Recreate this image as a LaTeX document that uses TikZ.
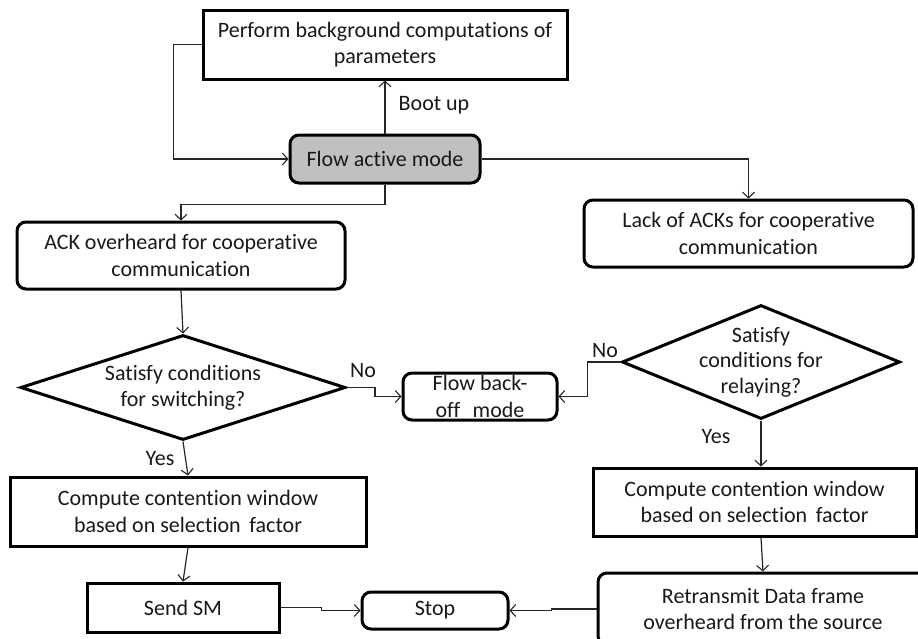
\documentclass[tikz,border=0pt]{standalone}
\usepackage{fontspec}
\setmainfont[Ligatures={NoCommon}]{Carlito}
\usetikzlibrary{arrows.meta,shapes.geometric,calc}
\definecolor{activegray}{HTML}{C0C0C0}
\begin{document}
\begin{tikzpicture}[x=1pt,y=-1pt,
  every node/.style={font=\fontsize{22}{26.5}\selectfont, align=center, text=black!90},
  box/.style={draw=black, line width=3pt, inner sep=0pt},
  sqbox/.style={box, rectangle},
  rbox/.style={box, rectangle, rounded corners=9pt},
  decision/.style={draw=black, line width=3pt, diamond, inner sep=0pt},
  conn/.style={line width=1.2pt, draw=black!85, -{Straight Barb[length=5.5pt,width=12pt,line width=1.1pt]}},
  lbl/.style={inner sep=0pt}
]
\useasboundingbox (0,0) rectangle (918,638);

% process boxes
\node[sqbox, minimum width=364pt, minimum height=69pt] (top) at (385,44.5)
  {Perform background computations of\\parameters};
\node[rbox, fill=activegray, minimum width=190pt, minimum height=48pt] (active) at (385,159)
  {Flow active mode};
\node[rbox, minimum width=328pt, minimum height=67pt] (ack) at (181,255.5)
  {ACK overheard for cooperative\\communication};
\node[rbox, minimum width=329pt, minimum height=67pt] (lack) at (748.5,233.5)
  {Lack of ACKs for cooperative\\communication};

% decisions
\node[decision, minimum width=325pt, minimum height=105pt,
  label={[align=center]center:Satisfy conditions\\for switching?}] (dl) at (183,387.5) {};
\node[decision, minimum width=278pt, minimum height=114pt,
  label={[align=center, font=\fontsize{22}{25.5}\selectfont]center:Satisfy\\conditions for\\relaying?}] (dr) at (761,362) {};

\node[rbox, minimum width=154pt, minimum height=47pt] (backoff) at (480,396.5)
  {Flow back-\\off\,\, mode};
\node[sqbox, minimum width=356pt, minimum height=69pt] (cl) at (188,511.5)
  {Compute contention window\\based on selection\, factor};
\node[sqbox, minimum width=323pt, minimum height=68pt] (cr) at (754.5,502)
  {Compute contention window\\based on selection\, factor};
\node[sqbox, minimum width=192pt, minimum height=49pt] (send) at (183,607.5) {Send SM};
\node[rbox, minimum width=146pt, minimum height=37pt] (stop) at (435,610.5) {Stop};
\node[rbox, minimum width=330pt, minimum height=72pt] (retx) at (763,609)
  {Retransmit Data frame\\overheard from the source};

% connectors and their labels
\draw[conn] (top.west) -- ++(-28,0) |- (active.west);
\draw[conn] (active.north) -- (top.south);
\node[lbl] (bootlbl) at (434,105) {Boot up};
\draw[conn] (active.east) -| (lack.north);
\draw[conn] (active.south) -- ++(0,20) -| (ack.north);
\draw[conn] (ack.south) -- (dl.north);
\draw[conn] (dl.east) -- ++(28,0) |- (backoff.west);
\node[lbl] (nolblL) at (363,371) {No};
\draw[conn] (dr.west) -- ++(-33,0) |- (backoff.east);
\node[lbl] (nolblR) at (605,351) {No};
\draw[conn] (dl.south) -- (cl.north);
\node[lbl] (yeslblL) at (160,459) {Yes};
\draw[conn] (dr.south) -- (dr.south |- cr.north);
\node[lbl] (yeslblR) at (716,437) {Yes};
\draw[conn] (cl.south) -- (send.north);
\draw[conn] (dr.south |- cr.south) -- (retx.north);
\draw[conn] (send.east) -- ++(41,0) |- (stop.west);
\draw[conn] (retx.west) -- ++(-45,0) |- (stop.east);
\end{tikzpicture}
\end{document}
